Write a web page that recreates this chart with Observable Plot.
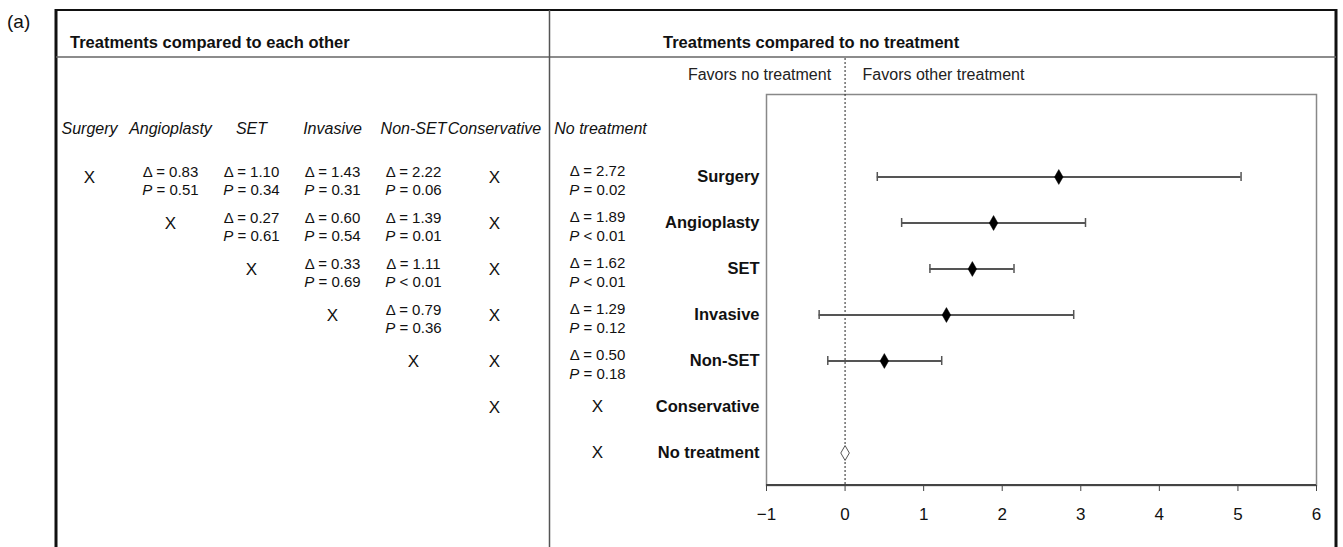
<!DOCTYPE html>
<html>
<head>
<meta charset="utf-8">
<script src="https://cdn.jsdelivr.net/npm/d3@7"></script>
<script src="https://cdn.jsdelivr.net/npm/@observablehq/plot@0.6"></script>
<style>
html, body { margin: 0; padding: 0; background: #fff; }
#chart { width: 1343px; height: 547px; }
</style>
</head>
<body>
<div id="chart"></div>
<script>
// ---------- data ----------
const treatments = ["Surgery", "Angioplasty", "SET", "Invasive", "Non-SET", "Conservative", "No treatment"];
const compareColumns = ["Surgery", "Angioplasty", "SET", "Invasive", "Non-SET", "Conservative"];

// pairwise comparisons (row treatment vs column treatment)
const pairRows  = ["Surgery", "Surgery", "Surgery", "Surgery", "Angioplasty", "Angioplasty", "Angioplasty", "SET", "SET", "Invasive"];
const pairCols  = ["Angioplasty", "SET", "Invasive", "Non-SET", "SET", "Invasive", "Non-SET", "Invasive", "Non-SET", "Non-SET"];
const pairDelta = ["0.83", "1.10", "1.43", "2.22", "0.27", "0.60", "1.39", "0.33", "1.11", "0.79"];
const pairP     = ["= 0.51", "= 0.34", "= 0.31", "= 0.06", "= 0.61", "= 0.54", "= 0.01", "= 0.69", "< 0.01", "= 0.36"];

// cells without a comparison ("X")
const crossRows = ["Surgery", "Angioplasty", "SET", "Invasive", "Non-SET", "Conservative", "Surgery", "Angioplasty", "SET", "Invasive", "Non-SET"];
const crossCols = ["Surgery", "Angioplasty", "SET", "Invasive", "Non-SET", "Conservative", "Conservative", "Conservative", "Conservative", "Conservative", "Conservative"];

// treatments compared to no treatment
const forestNames = ["Surgery", "Angioplasty", "SET", "Invasive", "Non-SET"];
const forestEst   = [2.72, 1.89, 1.62, 1.29, 0.50];
const forestLo    = [0.41, 0.72, 1.08, -0.33, -0.22];
const forestHi    = [5.04, 3.06, 2.15, 2.91, 1.23];
const forestP     = ["= 0.02", "< 0.01", "< 0.01", "= 0.12", "= 0.18"];
const noComparison = ["Conservative", "No treatment"];
const referenceRow = ["No treatment"];

const xTicks = [-1, 0, 1, 2, 3, 4, 5, 6];
const favorsLabels = ["Favors no treatment", "Favors other treatment"];
const headers = ["Treatments compared to each other", "Treatments compared to no treatment"];
const panelLabel = "(a)";

// ---------- styles ----------
const FONT = "'Liberation Sans', Arial, Helvetica, sans-serif";

// ---------- left table (treatments compared to each other) ----------
const pairIdx = d3.range(pairRows.length);
const crossIdx = d3.range(crossRows.length);

const left = Plot.plot({
  width: 549, height: 547, margin: 0,
  style: {fontFamily: FONT, background: "none", overflow: "visible"},
  x: {type: "point", domain: compareColumns, range: [89, 494], padding: 0, axis: null},
  y: {type: "point", domain: treatments, range: [174, 455], padding: 0, axis: null},
  marks: [
    Plot.text(compareColumns, {x: d => d, text: d => d, frameAnchor: "top", lineAnchor: "middle", textAnchor: "middle", dy: 128, fontSize: 16, fontStyle: "italic", fill: "#111"}),
    Plot.text(pairIdx, {x: i => pairCols[i], y: i => pairRows[i], text: i => `Δ = ${pairDelta[i]}`, dy: -5.5, fontSize: 15, fill: "#111"}),
    Plot.text(pairIdx, {x: i => pairCols[i], y: i => pairRows[i], text: i => `P ${pairP[i]}`, dy: 13, fontSize: 15, fill: "#111"}),
    Plot.text(crossIdx, {x: i => crossCols[i], y: i => crossRows[i], text: () => "X", fontSize: 17, fill: "#111"})
  ]
});

// ---------- right panel (treatments compared to no treatment) ----------
const fIdx = d3.range(forestNames.length);

const main = Plot.plot({
  width: 1343, height: 547,
  marginLeft: 766, marginRight: 27, marginTop: 94, marginBottom: 62,
  style: {fontFamily: FONT, background: "white", overflow: "visible"},
  x: {domain: [-1, 6]},
  y: {type: "band", domain: treatments, range: [150.58, 478.42], paddingInner: 0.8, paddingOuter: 0.4},
  marks: [
    Plot.frame({stroke: "#888", strokeWidth: 1.5}),
    Plot.ruleX([0], {stroke: "#222", strokeWidth: 1, strokeDasharray: "2,2", insetTop: -36}),
    Plot.axisX({ticks: xTicks, tickFormat: d3.format(""), tickSize: 6, tickPadding: 16, fontSize: 17, label: null, stroke: "#444", fill: "#111"}),
    Plot.axisY({tickSize: 0, tickPadding: 7, fontSize: 16.5, fontWeight: "bold", label: null, fill: "#111"}),
    Plot.ruleY(fIdx, {y: i => forestNames[i], x1: i => forestLo[i], x2: i => forestHi[i], stroke: "#555", strokeWidth: 2}),
    Plot.tickX(fIdx, {x: i => forestLo[i], y: i => forestNames[i], stroke: "#555", strokeWidth: 1.5}),
    Plot.tickX(fIdx, {x: i => forestHi[i], y: i => forestNames[i], stroke: "#555", strokeWidth: 1.5}),
    Plot.dot(fIdx, {x: i => forestEst[i], y: i => forestNames[i], symbol: "diamond", fill: "black", stroke: "black", strokeWidth: 0.5, r: 4.5}),
    Plot.dot(referenceRow, {x: () => 0, y: d => d, symbol: "diamond", fill: "white", stroke: "#555", strokeWidth: 1, r: 4.5}),
    // column "No treatment" of the comparison table
    Plot.text(referenceRow, {frameAnchor: "top-left", lineAnchor: "middle", textAnchor: "middle", text: d => d, dx: -166, dy: 34, fontSize: 16, fontStyle: "italic", fill: "#111"}),
    Plot.text(fIdx, {y: i => forestNames[i], frameAnchor: "left", textAnchor: "middle", dx: -169, dy: -5.5, text: i => `Δ = ${forestEst[i].toFixed(2)}`, fontSize: 15, fill: "#111"}),
    Plot.text(fIdx, {y: i => forestNames[i], frameAnchor: "left", textAnchor: "middle", dx: -169, dy: 13, text: i => `P ${forestP[i]}`, fontSize: 15, fill: "#111"}),
    Plot.text(noComparison, {y: d => d, frameAnchor: "left", textAnchor: "middle", dx: -169, text: () => "X", fontSize: 17, fill: "#111"}),
    // favors labels
    Plot.text([favorsLabels[0]], {x: () => 0, text: d => d, frameAnchor: "top", lineAnchor: "middle", dy: -20, dx: -14, textAnchor: "end", fontSize: 16, fill: "#222"}),
    Plot.text([favorsLabels[1]], {x: () => 0, text: d => d, frameAnchor: "top", lineAnchor: "middle", dy: -20, dx: 17.5, textAnchor: "start", fontSize: 16, fill: "#222"})
  ]
});

// nest the table into the main svg
left.setAttribute("x", 0);
left.setAttribute("y", 0);
left.style.overflow = "visible";
left.style.width = "549px";
left.style.height = "547px";
left.style.fontFamily = FONT;
main.appendChild(left);

const svg = d3.select(main);
const sx = main.scale("x");

// dark axis line along the bottom of the forest plot
svg.append("line")
  .attr("x1", sx.apply(-1)).attr("x2", sx.apply(6))
  .attr("y1", 485).attr("y2", 485)
  .attr("stroke", "#444").attr("stroke-width", 2);

// outer frame
const frame = svg.append("g").attr("fill", "none");
frame.append("line").attr("x1", 55).attr("x2", 1337).attr("y1", 10).attr("y2", 10).attr("stroke", "#111").attr("stroke-width", 2);
frame.append("line").attr("x1", 56).attr("x2", 56).attr("y1", 9).attr("y2", 547).attr("stroke", "#111").attr("stroke-width", 3);
frame.append("line").attr("x1", 1336).attr("x2", 1336).attr("y1", 9).attr("y2", 547).attr("stroke", "#111").attr("stroke-width", 3);
frame.append("line").attr("x1", 56).attr("x2", 1336).attr("y1", 57).attr("y2", 57).attr("stroke", "#666").attr("stroke-width", 1.5);
frame.append("line").attr("x1", 549.5).attr("x2", 549.5).attr("y1", 10).attr("y2", 547).attr("stroke", "#555").attr("stroke-width", 1.5);

// headers
const heads = svg.append("g").attr("text-anchor", "start").attr("fill", "#111");
heads.append("text").attr("x", 70).attr("y", 48).attr("font-size", 16.5).attr("font-weight", "bold").text(headers[0]);
heads.append("text").attr("x", 663).attr("y", 48).attr("font-size", 16.5).attr("font-weight", "bold").text(headers[1]);
heads.append("text").attr("x", 7).attr("y", 28).attr("font-size", 19).text(panelLabel);

// italic P in the p-value lines
main.querySelectorAll("text").forEach(t => {
  const s = t.textContent;
  if (t.children.length === 0 && s.startsWith("P ")) {
    t.textContent = "";
    const ts = document.createElementNS("http://www.w3.org/2000/svg", "tspan");
    ts.setAttribute("font-style", "italic");
    ts.textContent = "P";
    t.appendChild(ts);
    t.appendChild(document.createTextNode(s.slice(1)));
  }
});

document.getElementById("chart").appendChild(main);
</script>
</body>
</html>
